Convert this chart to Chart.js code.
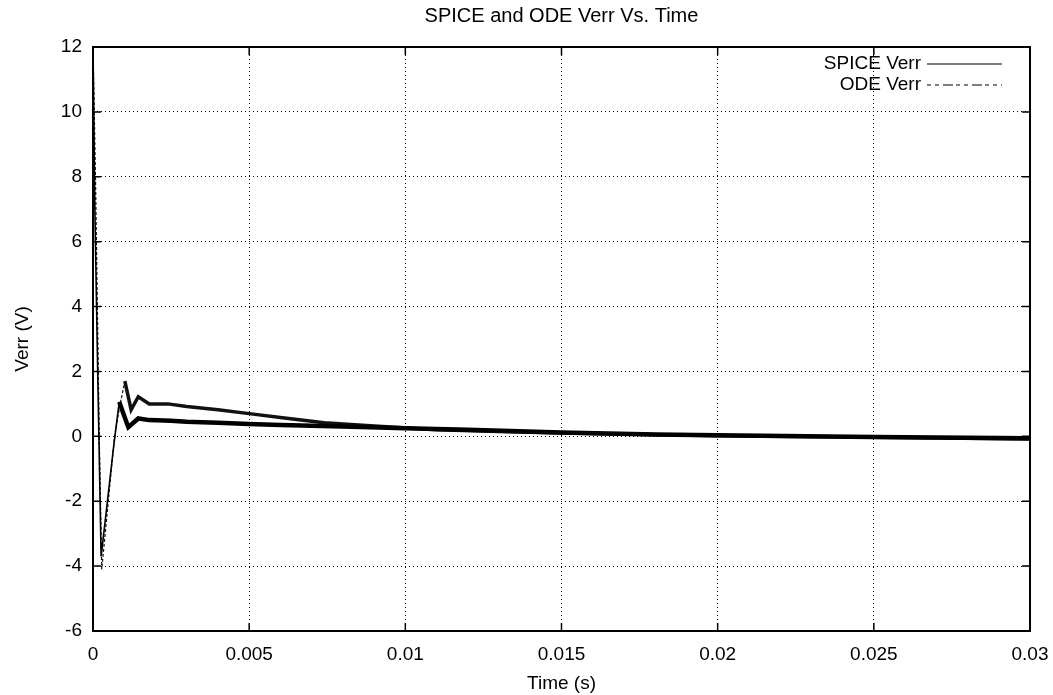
<!DOCTYPE html>
<html>
<head>
<meta charset="utf-8">
<script src="https://cdn.jsdelivr.net/npm/chart.js@4.4.1/dist/chart.umd.min.js"></script>
<style>
  html, body { margin: 0; padding: 0; background: #fff; }
  #wrap { width: 1053px; height: 695px; }
</style>
</head>
<body>
<div id="wrap"><canvas id="c" width="1053" height="695"></canvas></div>
<script>
// SPICE simulation error voltage (s, V)
const spiceTime = [0, 0.00006, 0.00015, 0.00026, 0.00045, 0.00065, 0.00084, 0.00113, 0.00145, 0.0018, 0.0025, 0.003, 0.004, 0.005, 0.006, 0.008, 0.01, 0.012, 0.015, 0.018, 0.02, 0.025, 0.03];
const spiceVerr = [12, 7, 2, -3.7, -2.1, -0.4, 1.06, 0.28, 0.55, 0.5, 0.48, 0.45, 0.42, 0.38, 0.35, 0.3, 0.25, 0.2, 0.12, 0.06, 0.03, -0.02, -0.06];

// ODE model error voltage (s, V)
const odeTime = [0, 0.00008, 0.0002, 0.00028, 0.00048, 0.00069, 0.00085, 0.00102, 0.00122, 0.00145, 0.0018, 0.0024, 0.003, 0.004, 0.005, 0.006, 0.0074, 0.009, 0.011, 0.013, 0.015, 0.02, 0.025, 0.03];
const odeVerr = [12, 8, 0, -4.1, -2.1, 0, 0.9, 1.7, 0.82, 1.22, 1.0, 1.0, 0.92, 0.82, 0.7, 0.58, 0.42, 0.32, 0.2, 0.15, 0.1, 0.02, -0.03, -0.08];

// Axis ticks
const xTickValues = [0, 0.005, 0.01, 0.015, 0.02, 0.025, 0.03];
const xTickLabels = ['0', '0.005', '0.01', '0.015', '0.02', '0.025', '0.03'];
const yTickValues = [-6, -4, -2, 0, 2, 4, 6, 8, 10, 12];
const yTickLabels = ['-6', '-4', '-2', '0', '2', '4', '6', '8', '10', '12'];

const seriesNames = ['SPICE Verr', 'ODE Verr'];
const titleText = 'SPICE and ODE Verr Vs. Time';
const xTitle = 'Time (s)';
const yTitle = 'Verr (V)';

const FONT = '"Liberation Sans", Arial, Helvetica, sans-serif';
const FS = 19;

function toPoints(xs, ys) { return xs.map((x, i) => ({ x: x, y: ys[i] })); }

// Start-up transient is drawn fine; the settled, ripple-laden part is drawn as a heavy band
const spiceSettle = 0.0008;
const odeSettle = 0.00102;

// Gnuplot-style frame, inward ticks, title over the plot and key with sample lines right of the text
const framePlugin = {
  id: 'frame',
  afterDraw(chart) {
    const { ctx, chartArea: a, scales } = chart;
    ctx.save();
    ctx.strokeStyle = '#000';
    ctx.lineWidth = 1.5;
    const tl = 8;
    ctx.beginPath();
    xTickValues.forEach(v => {
      const px = scales.x.getPixelForValue(v);
      ctx.moveTo(px, a.bottom); ctx.lineTo(px, a.bottom - tl);
      ctx.moveTo(px, a.top); ctx.lineTo(px, a.top + tl);
    });
    yTickValues.forEach(v => {
      const py = scales.y.getPixelForValue(v);
      ctx.moveTo(a.left, py); ctx.lineTo(a.left + tl, py);
      ctx.moveTo(a.right, py); ctx.lineTo(a.right - tl, py);
    });
    ctx.stroke();
    ctx.lineWidth = 2;
    ctx.strokeRect(a.left, a.top, a.right - a.left, a.bottom - a.top);

    ctx.fillStyle = '#000';
    ctx.textBaseline = 'middle';

    // title, centred over the plot area
    ctx.font = '20px ' + FONT;
    ctx.textAlign = 'center';
    ctx.fillText(titleText, (a.left + a.right) / 2, 16);

    // key
    ctx.font = FS + 'px ' + FONT;
    ctx.textAlign = 'right';
    const textRight = a.right - 109;
    const lineL = a.right - 103, lineR = a.right - 28;
    chart.data.datasets.forEach((ds, i) => {
      const y = a.top + 17 + i * 21;
      ctx.fillText(ds.label, textRight, y);
      ctx.beginPath();
      ctx.lineWidth = 1.2;
      ctx.setLineDash(ds.keyDash || []);
      ctx.moveTo(lineL, y); ctx.lineTo(lineR, y);
      ctx.stroke();
      ctx.setLineDash([]);
    });
    ctx.restore();
  }
};

new Chart(document.getElementById('c'), {
  type: 'line',
  data: {
    datasets: [
      {
        label: seriesNames[0],
        data: toPoints(spiceTime, spiceVerr),
        borderColor: '#000',
        borderWidth: 3,
        pointRadius: 0,
        tension: 0,
        keyDash: [],
        segment: {
          borderWidth: c => (c.p0.parsed.x < spiceSettle ? 1.6 : 4.5)
        }
      },
      {
        label: seriesNames[1],
        data: toPoints(odeTime, odeVerr),
        borderColor: '#111',
        borderWidth: 3,
        pointRadius: 0,
        tension: 0,
        keyDash: [4, 4, 4, 4, 10, 3],
        segment: {
          borderWidth: c => (c.p0.parsed.x < odeSettle ? 1.2 : 3.5),
          borderDash: c => (c.p0.parsed.x < odeSettle ? [3, 2] : [])
        }
      }
    ]
  },
  options: {
    responsive: false,
    animation: false,
    layout: { padding: { top: 47, right: 23, bottom: 0, left: 0 } },
    plugins: {
      legend: { display: false },
      tooltip: { enabled: false },
      title: { display: false }
    },
    scales: {
      x: {
        type: 'linear',
        min: 0,
        max: 0.03,
        afterBuildTicks: s => { s.ticks = xTickValues.map(v => ({ value: v })); },
        afterFit: s => { s.height = 64; s.paddingLeft = 0; s.paddingRight = 0; },
        ticks: {
          color: '#000',
          font: { family: FONT, size: FS },
          padding: 12,
          maxRotation: 0,
          autoSkip: false,
          callback: (v, i) => xTickLabels[i]
        },
        grid: { color: '#000', lineWidth: 1, drawTicks: false },
        border: { display: false, dash: [1, 3] },
        title: {
          display: true,
          text: xTitle,
          color: '#000',
          font: { family: FONT, size: FS },
          padding: { top: 0, bottom: 0 }
        }
      },
      y: {
        type: 'linear',
        min: -6,
        max: 12,
        afterBuildTicks: s => { s.ticks = yTickValues.map(v => ({ value: v })); },
        afterFit: s => { s.width = 93; s.paddingTop = 0; s.paddingBottom = 0; },
        ticks: {
          color: '#000',
          font: { family: FONT, size: FS },
          padding: 11,
          autoSkip: false,
          callback: (v, i) => yTickLabels[i]
        },
        grid: { color: '#000', lineWidth: 1, drawTicks: false },
        border: { display: false, dash: [1, 3] },
        title: {
          display: true,
          text: yTitle,
          color: '#000',
          font: { family: FONT, size: FS },
          padding: { top: 11, bottom: 0 }
        }
      }
    }
  },
  plugins: [framePlugin]
});
</script>
</body>
</html>
